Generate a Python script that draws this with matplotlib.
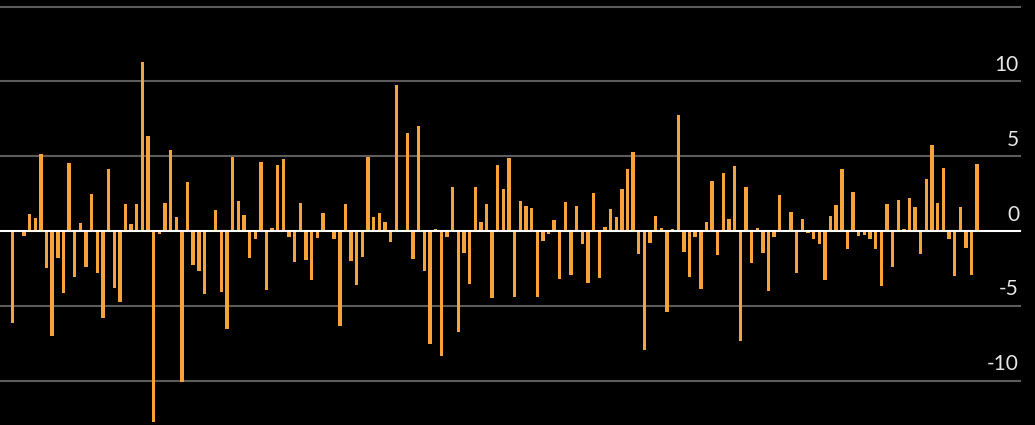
import numpy as np
import matplotlib
matplotlib.use("Agg")
import matplotlib.pyplot as plt

# values, one bar per period
values = [
    -6.12, 0.0, -0.31, 1.14, 0.85, 5.12, -2.45, -7.02, -1.83, -4.16,
    4.57, -3.10, 0.53, -2.43, 2.49, -2.83, -5.84, 4.14, -3.83, -4.74,
    1.80, 0.47, 1.80, 11.27, 6.37, -12.78, -0.22, 1.85, 5.41, 0.94,
    -10.11, 3.25, -2.29, -2.69, -4.23, 0.0, 1.40, -4.10, -6.57, 4.92,
    2.00, 1.07, -1.80, -0.53, 4.63, -3.92, 0.22, 4.39, 4.79, -0.40,
    -2.07, 1.89, -1.94, -3.27, -0.49, 1.18, 0.0, -0.51, -6.33, 1.78,
    -1.98, -3.61, -1.74, 4.94, 0.96, 1.22, 0.58, -0.73, 9.75, 0.0,
    6.53, -1.85, 7.04, -2.69, -7.53, 0.13, -8.37, -0.38, 2.94, -6.75,
    -1.45, -3.56, 2.94, 0.62, 1.83, -4.45, 4.43, 2.78, 4.88, -4.43,
    1.98, 1.65, 1.56, -4.39, -0.67, -0.18, 0.76, -3.23, 1.92, -2.96,
    1.67, -0.89, -3.50, 2.52, -3.16, 0.24, 1.49, 0.96, 2.83, 4.16,
    5.26, -1.56, -7.97, -0.80, 1.02, 0.18, -5.39, 0.11, 7.77, -1.40,
    -3.07, -0.38, -3.90, 0.60, 3.32, -1.58, 3.85, 0.78, 4.32, -7.33,
    2.94, -2.12, 0.22, -1.47, -3.99, -0.42, 2.41, 0.0, 1.29, -2.81,
    0.80, -0.16, -0.56, -0.87, -3.25, 1.02, 1.71, 4.16, -1.18, 2.58,
    -0.33, -0.24, -0.53, -1.22, -3.70, 1.80, -2.43, 2.07, 0.11, 2.18,
    1.58, -1.56, 3.50, 5.75, 1.89, 4.23, -0.51, -3.01, 1.63, -1.14,
    -2.94, 4.48,
]
periods = np.arange(len(values))

grid_levels = [-10, -5, 5, 10, 15]
tick_values = [-10, -5, 0, 5, 10]
tick_labels = ["-10", "-5", "0", "5", "10"]

fig = plt.figure(figsize=(10.35, 4.25), dpi=100, facecolor="black")
ax = fig.add_axes([0, 0, 1, 1])
ax.set_facecolor("black")

# grid lines stop just before the right edge
line_end = 1020 / 1035
for g in grid_levels:
    ax.axhline(g, xmin=0, xmax=line_end, color="#5c5c5c", lw=1.5, zorder=1)

ax.bar(periods, values, width=0.6, color="#f5a33a", zorder=2)
ax.axhline(0, xmin=0, xmax=line_end, color="white", lw=1.5, zorder=3)

for v, lab in zip(tick_values, tick_labels):
    ax.annotate(lab, xy=(1019 / 1035, v), xycoords=("axes fraction", "data"),
                xytext=(0, 7.5), textcoords="offset points",
                ha="right", va="baseline", color="#e6e6e6", fontsize=15,
                family=["Lato", "DejaVu Sans"])

ax.set_xlim(-2.25, 181.25)
ax.set_ylim(-12.97, 15.44)
ax.axis("off")

fig.savefig("out.png", dpi=100, facecolor="black")
